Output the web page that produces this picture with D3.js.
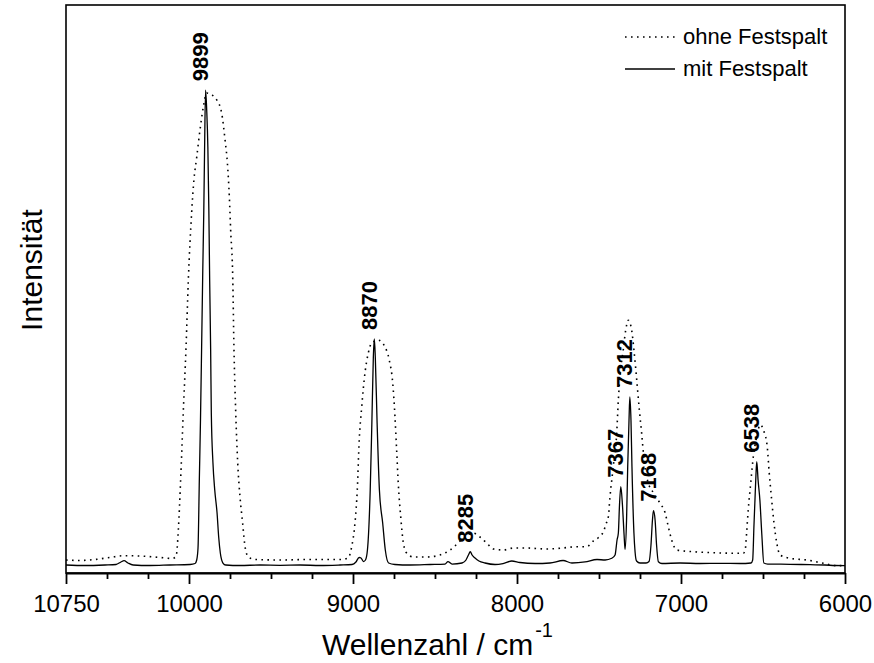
<!DOCTYPE html>
<html>
<head>
<meta charset="utf-8">
<script src="https://cdn.jsdelivr.net/npm/d3@7"></script>
<style>
  body { margin: 0; background: #fff; }
  svg { display: block; }
  text { font-family: "Liberation Sans", Arial, sans-serif; fill: #000; }
</style>
</head>
<body>
<svg id="chart" width="874" height="663"></svg>
<script>
// Spectrum with slit ("mit Festspalt"): [wavenumber cm^-1, intensity a.u.]
const spectrumMitFestspalt = [
  [10750,1.41],[10634,1.32],[10512,1.41],[10445,1.50],[10415,1.94],[10396,2.17],[10372,1.76],[10341,1.41],[10238,1.32],[10116,1.41],
  [9994,1.50],[9963,1.67],[9953,2.29],[9945,4.40],[9937,16.4],[9930,26.9],[9923,39.8],[9916,53.3],[9910,63.4],[9905,74.5],
  [9899,85.0],[9892,81.5],[9885,75.0],[9879,63.9],[9874,51.6],[9868,39.3],[9864,28.2],[9854,19.4],[9843,14.6],[9829,10.6],
  [9819,6.34],[9809,3.52],[9793,1.76],[9776,1.41],[9689,1.32],[9567,1.41],[9445,1.36],[9323,1.41],[9201,1.32],[9079,1.41],
  [9006,1.50],[8982,1.94],[8963,2.73],[8951,2.64],[8936,2.02],[8924,2.29],[8912,4.05],[8895,14.6],[8885,26.4],[8876,38.0],
  [8870,41.2],[8864,38.0],[8853,26.4],[8839,14.6],[8819,8.80],[8803,4.05],[8783,1.76],[8744,1.50],[8652,1.41],[8530,1.50],
  [8439,1.58],[8421,1.99],[8396,1.58],[8335,1.76],[8311,2.29],[8296,3.17],[8285,3.75],[8274,3.17],[8256,2.64],[8232,2.11],
  [8195,1.76],[8134,1.50],[8085,1.67],[8032,2.11],[7982,1.85],[7890,1.67],[7799,1.76],[7719,2.20],[7665,1.76],[7585,1.94],
  [7512,2.38],[7463,2.29],[7422,2.59],[7402,3.17],[7390,5.81],[7382,7.04],[7375,11.97],[7367,15.2],[7357,11.97],[7347,6.69],
  [7341,4.17],[7332,9.33],[7325,18.7],[7317,26.9],[7312,31.0],[7305,26.9],[7299,18.7],[7287,7.04],[7280,3.70],[7271,2.11],
  [7250,1.76],[7213,1.76],[7195,2.02],[7183,4.93],[7174,9.33],[7168,10.97],[7158,9.33],[7149,4.93],[7138,1.99],[7116,1.67],
  [7006,1.76],[6884,1.67],[6762,1.71],[6640,1.67],[6573,1.76],[6563,2.29],[6555,8.45],[6549,12.85],[6543,17.25],[6538,19.6],
  [6530,16.37],[6519,12.85],[6507,6.69],[6495,1.76],[6471,1.58],[6335,1.53],[6213,1.46],[6122,1.41],[6061,1.32],[6000,1.29]
];

// Spectrum without slit ("ohne Festspalt"): [wavenumber cm^-1, intensity a.u.]
const spectrumOhneFestspalt = [
  [10750,2.29],[10665,2.20],[10573,2.38],[10482,2.73],[10396,3.05],[10299,2.99],[10177,2.73],[10104,2.55],[10079,2.87],[10065,7.57],
  [10051,16.4],[10035,28.2],[10018,39.8],[10004,51.6],[9984,63.4],[9970,69.2],[9953,73.2],[9933,78.0],[9913,82.0],[9892,84.5],
  [9862,84.2],[9831,83.3],[9801,81.0],[9780,76.2],[9766,72.2],[9754,66.2],[9746,60.4],[9733,51.6],[9726,39.8],[9715,28.2],
  [9703,19.4],[9689,13.4],[9673,8.80],[9658,4.58],[9638,2.82],[9598,2.38],[9445,2.29],[9262,2.38],[9079,2.38],[9030,2.64],
  [9008,4.63],[8988,8.80],[8974,14.6],[8962,23.4],[8947,29.2],[8927,35.2],[8907,38.7],[8886,40.5],[8846,41.0],[8805,39.8],
  [8779,37.5],[8758,33.5],[8744,27.5],[8734,21.7],[8724,15.8],[8709,9.86],[8693,5.28],[8673,3.52],[8632,2.82],[8551,2.82],
  [8470,3.17],[8408,4.05],[8372,4.93],[8327,6.16],[8268,7.04],[8226,6.34],[8185,5.28],[8144,4.23],[8083,4.05],[8022,4.40],
  [7941,4.40],[7829,4.23],[7738,4.35],[7636,4.63],[7575,4.63],[7535,5.63],[7506,6.16],[7474,7.22],[7457,8.63],[7443,9.91],
  [7433,13.4],[7413,18.7],[7392,24.6],[7382,30.5],[7372,34.6],[7352,39.3],[7337,42.8],[7321,44.5],[7301,42.8],[7287,39.3],
  [7270,34.0],[7254,28.7],[7240,24.6],[7225,19.9],[7205,16.4],[7168,14.1],[7128,12.3],[7097,10.6],[7077,8.10],[7057,5.81],
  [7026,4.05],[6925,3.75],[6803,3.57],[6620,3.47],[6607,4.40],[6600,7.04],[6590,11.1],[6575,15.8],[6559,20.5],[6538,24.0],
  [6517,26.1],[6494,24.9],[6474,22.2],[6462,17.6],[6447,12.85],[6433,8.80],[6416,5.28],[6396,3.17],[6335,2.59],[6233,2.29],
  [6132,1.71],[6051,1.29],[6000,1.29]
];

// Labelled band positions (cm^-1) on the slit spectrum
const peakLabels = [9899, 8870, 8285, 7367, 7312, 7168, 6538];

// Axis ticks
const majorTicks = [10750, 10000, 9000, 8000, 7000, 6000];
const minorTicks = [10500, 10250, 9750, 9500, 9250, 8750, 8500, 8250, 7750, 7500, 7250, 6750, 6500, 6250];

const legendItems = [
  { name: "ohne Festspalt", dash: "1.6,4.4" },
  { name: "mit Festspalt", dash: null }
];

const svg = d3.select("#chart");
const plot = { left: 66, right: 845, top: 5, bottom: 573 };

const x = d3.scaleLinear().domain([10750, 6000]).range([plot.left, plot.right]);
const y = d3.scaleLinear().domain([0, 100]).range([plot.bottom, plot.top]);

const line = d3.line()
  .x(d => x(d[0]))
  .y(d => y(d[1]))
  .curve(d3.curveMonotoneX);

// Curves
svg.append("path")
  .datum(spectrumOhneFestspalt)
  .attr("d", line)
  .attr("fill", "none")
  .attr("stroke", "#000")
  .attr("stroke-width", 1.6)
  .attr("stroke-dasharray", legendItems[0].dash);

svg.append("path")
  .datum(spectrumMitFestspalt)
  .attr("d", line)
  .attr("fill", "none")
  .attr("stroke", "#000")
  .attr("stroke-width", 1.3)
  .attr("stroke-linejoin", "round");

// Frame
svg.append("rect")
  .attr("x", plot.left).attr("y", plot.top)
  .attr("width", plot.right - plot.left).attr("height", plot.bottom - plot.top)
  .attr("fill", "none").attr("stroke", "#000").attr("stroke-width", 1.6);

// Bottom axis: major and minor ticks
const axisG = svg.append("g").attr("transform", `translate(0,${plot.bottom})`);
axisG.call(d3.axisBottom(x).tickValues(majorTicks).tickFormat(d3.format("d"))
  .tickSize(11).tickSizeOuter(0).tickPadding(11));
axisG.select(".domain").attr("stroke-width", 2.2);
axisG.selectAll(".tick line").attr("stroke-width", 1.8);
axisG.selectAll(".tick text")
  .attr("font-size", 24)
  .attr("font-family", '"Liberation Sans", Arial, sans-serif');

const minorG = svg.append("g").attr("transform", `translate(0,${plot.bottom})`);
minorG.call(d3.axisBottom(x).tickValues(minorTicks).tickFormat("").tickSize(6).tickSizeOuter(0));
minorG.select(".domain").remove();
minorG.selectAll(".tick line").attr("stroke-width", 1.8);

// Axis titles
const xTitle = svg.append("text")
  .attr("x", 322).attr("y", 655)
  .attr("font-size", 30);
xTitle.append("tspan").text("Wellenzahl / cm");
xTitle.append("tspan").attr("font-size", 20).attr("dy", -18).attr("dx", 2).text("-1");

svg.append("text")
  .attr("transform", "translate(42,270) rotate(-90)")
  .attr("text-anchor", "middle")
  .attr("font-size", 30)
  .text("Intensität");

// Peak labels
const peakValue = new Map(spectrumMitFestspalt.map(d => [d[0], d[1]]));
svg.selectAll("text.peak")
  .data(peakLabels)
  .join("text")
  .attr("class", "peak")
  .attr("transform", d => `translate(${x(d) + 2.5},${y(peakValue.get(d)) - 9}) rotate(-90)`)
  .attr("font-size", 22)
  .attr("font-weight", "bold")
  .text(d => d);

// Legend
const legend = svg.append("g");
legendItems.forEach((item, i) => {
  const yy = 37 + i * 32;
  legend.append("line")
    .attr("x1", 625).attr("x2", 675).attr("y1", yy).attr("y2", yy)
    .attr("stroke", "#000")
    .attr("stroke-width", item.dash ? 1.6 : 1.3)
    .attr("stroke-dasharray", item.dash);
  legend.append("text")
    .attr("x", 683).attr("y", yy + 7)
    .attr("font-size", 22)
    .text(item.name);
});
</script>
</body>
</html>
